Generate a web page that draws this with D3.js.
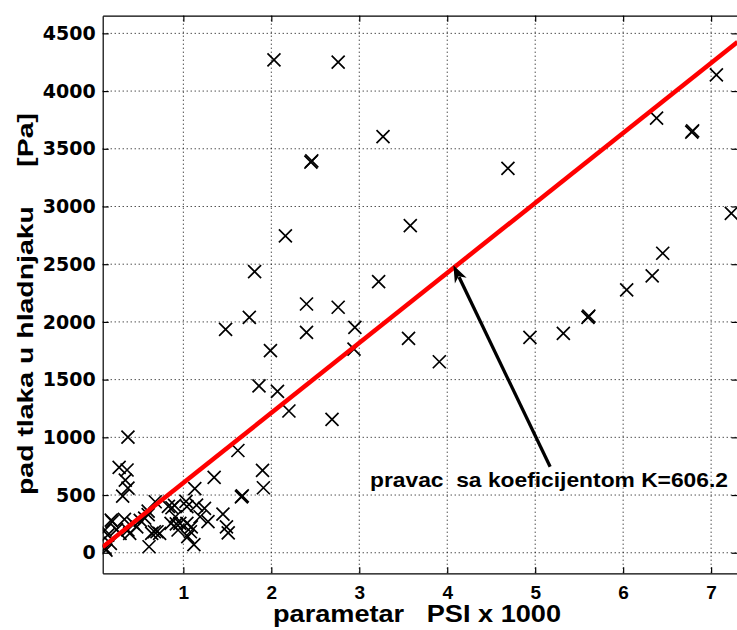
<!DOCTYPE html>
<html><head><meta charset="utf-8">
<script src="https://cdn.jsdelivr.net/npm/d3@7"></script>
<style>body{margin:0;background:#fff;overflow:hidden}</style>
</head><body>
<svg id="c" width="737" height="630"></svg>
<script>
// ---- data ----
const psi = [2.03,2.76,3.27,2.45,2.46,2.16,3.58,1.81,3.22,2.40,2.76,1.75,1.48,2.40,2.95,3.56,1.99,2.94,1.86,2.07,2.20,2.69,0.37,1.62,3.91,4.94,5.32,5.60,5.61,6.04,6.33,6.45,6.38,6.78,6.79,7.06,7.23,4.69,
  0.27,0.36,0.34,0.37,0.31,1.35,1.90,1.91,1.66,1.67,1.13,1.03,1.15,1.04,0.83,0.87,0.90,0.68,0.60,0.19,0.33,0.51,0.70,0.61,0.91,0.92,1.04,1.08,1.12,1.19,1.28,1.45,1.51,0.17,0.11,0.28,0.47,0.11,0.39,0.43,0.60,0.64,0.73,0.96,1.09,0.18,0.24,0.56,0.14,0.12,0.37,0.67,1.24,1.05,0.86,0.94,1.49];
const dp = [4270,4250,3605,3385,3395,2745,2834,2436,2349,2155,2127,2040,1936,1910,1953,1858,1751,1765,1445,1399,1228,1156,1002,886,1655,1866,1901,2040,2050,2277,2398,2595,3765,3645,3655,4140,2941,3331,
  740,717,630,560,490,653,714,563,485,492,556,445,413,400,402,390,410,442,330,270,290,280,182,52,312,250,255,182,70,312,269,335,173,81,40,168,225,197,168,255,360,168,168,255,225,283,200,300,153,23,197,182,385,139,255,197,225];
const xTicks = [1,2,3,4,5,6,7];
const yTicks = [0,500,1000,1500,2000,2500,3000,3500,4000,4500];
const K = 606.2;
const arrowTip = [4.07, 2490];
const arrowTail = [5.17, 745];
const note = "pravac  sa koeficijentom K=606.2";
const xTitle = "parametar   PSI x 1000";
const yTitle = "pad tlaka u hladnjaku     [Pa]";

// ---- layout ----
const L=102.7, R=737.5, T=15.7, B=573.3;
const svg = d3.select("#c");
const x = d3.scaleLinear().domain([0.083,7.30]).range([L,R]);
const y = d3.scaleLinear().domain([-178,4653]).range([B,T]);

svg.append("defs").append("clipPath").attr("id","clip")
  .append("rect").attr("x",L).attr("y",T).attr("width",R-L).attr("height",B-T);

// grid
const g = svg.append("g");
g.selectAll(".gx").data(xTicks).join("line")
  .attr("x1",d=>x(d)).attr("x2",d=>x(d)).attr("y1",T).attr("y2",B)
  .attr("stroke","#000").attr("stroke-width",1).attr("stroke-dasharray","1,3");
g.selectAll(".gy").data(yTicks).join("line")
  .attr("y1",d=>y(d)).attr("y2",d=>y(d)).attr("x1",L).attr("x2",R)
  .attr("stroke","#000").attr("stroke-width",1).attr("stroke-dasharray","1,3");

// axes
const axB = svg.append("g").attr("transform",`translate(0,${B})`)
  .call(d3.axisBottom(x).tickValues(xTicks).tickFormat(d3.format("d")).tickSize(-6).tickSizeOuter(0).tickPadding(12));
const axL = svg.append("g").attr("transform",`translate(${L},0)`)
  .call(d3.axisLeft(y).tickValues(yTicks).tickFormat(d3.format("d")).tickSize(-6).tickSizeOuter(0).tickPadding(7));
const axT = svg.append("g").attr("transform",`translate(0,${T})`)
  .call(d3.axisTop(x).tickValues(xTicks).tickFormat("").tickSize(-6).tickSizeOuter(0));
const axR = svg.append("g").attr("transform",`translate(${R},0)`)
  .call(d3.axisRight(y).tickValues(yTicks).tickFormat("").tickSize(-6).tickSizeOuter(0));
[axB,axL,axT,axR].forEach(a=>{
  a.selectAll("path,line").attr("stroke","#000").attr("stroke-width",1.2);
});
axB.selectAll("text").attr("font-family","'Liberation Sans',Arial,sans-serif").attr("font-weight","bold").attr("font-size",19).attr("fill","#000");
axL.selectAll("text").attr("font-family","'DejaVu Sans',sans-serif").attr("font-weight","bold").attr("font-size",19).attr("fill","#000");

const plot = svg.append("g").attr("clip-path","url(#clip)");

// points
plot.selectAll(".pt").data(psi.map((p,i)=>[p,dp[i]])).join("path")
  .attr("transform",d=>`translate(${x(d[0])},${y(d[1])})`)
  .attr("d","M-6.5,-6.5L6.5,6.5M-6.5,6.5L6.5,-6.5")
  .attr("stroke","#000").attr("stroke-width",1.7).attr("fill","none");

// fitted line
const xd = x.domain();
plot.append("line")
  .attr("x1",x(xd[0])).attr("y1",y(K*xd[0]))
  .attr("x2",x(xd[1])).attr("y2",y(K*xd[1]))
  .attr("stroke","#ff0000").attr("stroke-width",4.5);

// arrow
const tx=x(arrowTip[0]), ty=y(arrowTip[1]), sx=x(arrowTail[0]), sy=y(arrowTail[1]);
const ang=Math.atan2(ty-sy,tx-sx), hl=17, hw=6.5;
const bx=tx-hl*Math.cos(ang), by=ty-hl*Math.sin(ang);
svg.append("line").attr("x1",sx).attr("y1",sy).attr("x2",bx+4*Math.cos(ang)).attr("y2",by+4*Math.sin(ang))
  .attr("stroke","#000").attr("stroke-width",3.3);
svg.append("path").attr("d",`M${tx},${ty}L${bx+hw*Math.sin(ang)},${by-hw*Math.cos(ang)}L${bx+5*Math.cos(ang)},${by+5*Math.sin(ang)}L${bx-hw*Math.sin(ang)},${by+hw*Math.cos(ang)}Z`)
  .attr("fill","#000");

// annotation
svg.append("text").attr("x",370).attr("y",487).attr("xml:space","preserve").style("white-space","pre")
  .attr("textLength",358).attr("lengthAdjust","spacingAndGlyphs")
  .attr("font-family","'Liberation Sans',Arial,sans-serif").attr("font-weight","bold").attr("font-size",21)
  .text(note);

// titles
svg.append("text").attr("x",273).attr("y",622).style("white-space","pre")
  .attr("textLength",288).attr("lengthAdjust","spacingAndGlyphs")
  .attr("font-family","'Liberation Sans',Arial,sans-serif").attr("font-weight","bold").attr("font-size",23)
  .text(xTitle);
svg.append("text").attr("transform","translate(33,495) rotate(-90)").style("white-space","pre")
  .attr("textLength",382).attr("lengthAdjust","spacingAndGlyphs")
  .attr("font-family","'Liberation Sans',Arial,sans-serif").attr("font-weight","bold").attr("font-size",22)
  .text(yTitle);
</script>
</body></html>
